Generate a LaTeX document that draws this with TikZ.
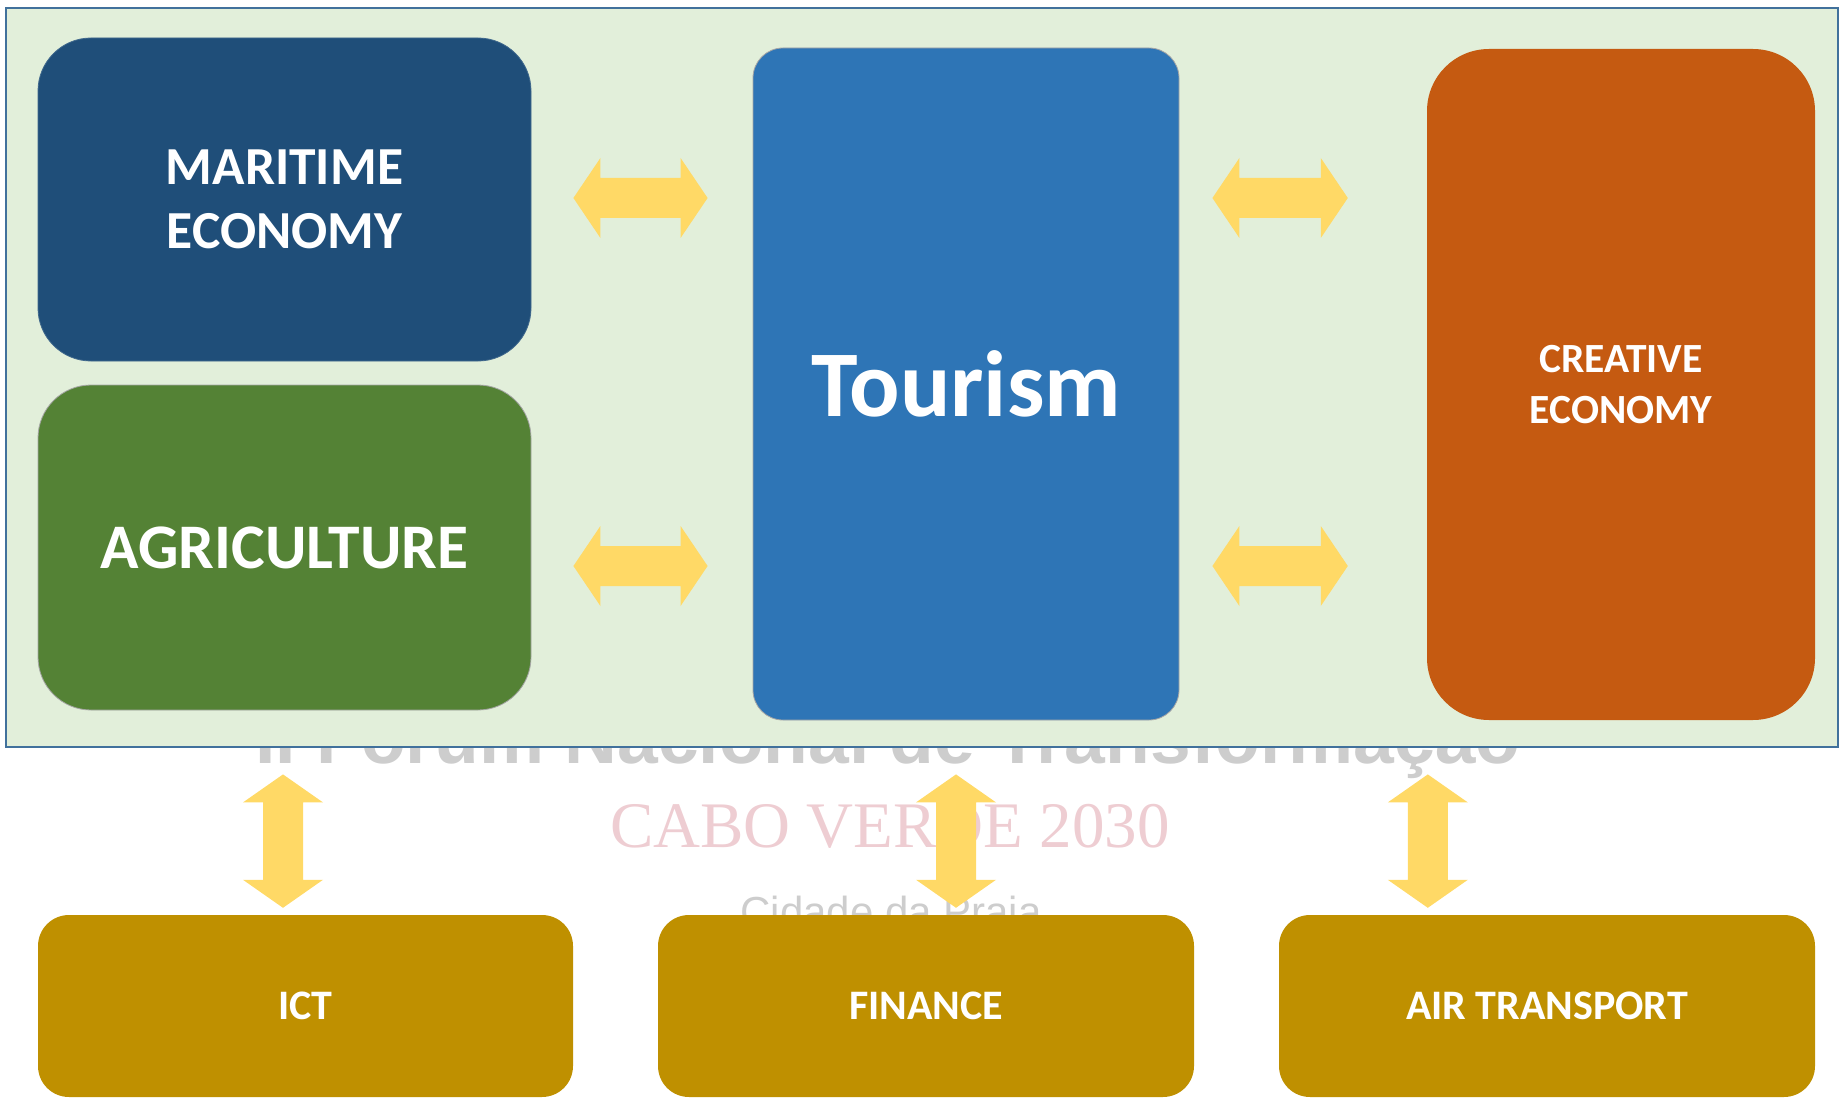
\documentclass[tikz,border=0pt]{standalone}
\usepackage{fontspec}
\setmainfont{Carlito}
\newfontfamily\wmsans{Liberation Sans}
\newfontfamily\wmserif{Liberation Serif}
\usetikzlibrary{calc}
\definecolor{bgc}{RGB}{226,239,218}
\definecolor{framec}{RGB}{65,113,156}
\definecolor{marc}{RGB}{31,78,121}
\definecolor{agrc}{RGB}{84,130,53}
\definecolor{tourc}{RGB}{46,117,182}
\definecolor{creac}{RGB}{197,90,17}
\definecolor{botc}{RGB}{191,144,0}
\definecolor{arrowc}{RGB}{255,217,102}
\definecolor{wmgrey}{RGB}{205,205,205}
\definecolor{wmpink}{RGB}{238,205,210}
\newcommand{\hbiarrow}[2]{%
  \fill[arrowc] (#1) -- ($(#1)+(27,-40)$) -- ($(#1)+(27,-20)$) -- ($(#2)+(-27,-20)$)
   -- ($(#2)+(-27,-40)$) -- (#2) -- ($(#2)+(-27,40)$) -- ($(#2)+(-27,20)$)
   -- ($(#1)+(27,20)$) -- ($(#1)+(27,40)$) -- cycle;}
\newcommand{\vbiarrow}[2]{%
  \fill[arrowc] (#1) -- ($(#1)+(-40,28)$) -- ($(#1)+(-20,28)$) -- ($(#2)+(-20,-28)$)
   -- ($(#2)+(-40,-28)$) -- (#2) -- ($(#2)+(40,-28)$) -- ($(#2)+(20,-28)$)
   -- ($(#1)+(20,28)$) -- ($(#1)+(40,28)$) -- cycle;}
\tikzset{
  box/.style={rectangle, inner sep=0pt, align=center, text=white, font=\bfseries},
}
\begin{document}
\begin{tikzpicture}[x=1pt,y=-1pt]
\useasboundingbox (0,0) rectangle (1845,1110);
% watermark
\node[anchor=base, text=wmgrey, font=\wmsans\bfseries\fontsize{78}{90}\selectfont, inner sep=0pt] (wm1) at (888,763) {\resizebox{1265pt}{!}{II Forum Nacional de Transformação}};
\node[anchor=base, text=wmpink, font=\wmserif\fontsize{65}{75}\selectfont, inner sep=0pt] (wm2) at (890,847) {CABO VERDE 2030};
\node[anchor=base, text=wmgrey, font=\wmsans\fontsize{42}{50}\selectfont, inner sep=0pt] (wm3) at (891,926) {Cidade da Praia};
% frame
\node[rectangle, fill=bgc, draw=framec, line width=2.8pt, minimum width=1832pt, minimum height=739pt, inner sep=0pt] (frame) at (922,377.5) {};
% top boxes
\node[box, fill=marc, draw=marc!85!white, line width=0.8pt, rounded corners=53pt, minimum width=493pt, minimum height=323pt, font=\bfseries\fontsize{53.5}{64}\selectfont] (mar) at (284.5,199.5) {MARITIME\\ECONOMY};
\node[box, fill=agrc, draw=gray!70, line width=0.8pt, rounded corners=53pt, minimum width=493pt, minimum height=325pt, font=\bfseries\fontsize{63.5}{76}\selectfont] (agr) at (284.5,547.5) {AGRICULTURE};
\node[box, fill=tourc, draw=gray!70, line width=0.8pt, rounded corners=30pt, minimum width=426pt, minimum height=672pt, font=\bfseries\fontsize{94}{112}\selectfont] (tour) at (966,384) {Tourism};
\node[box, fill=creac, rounded corners=62pt, minimum width=388pt, minimum height=671pt, font=\bfseries\fontsize{41.5}{51}\selectfont] (crea) at (1621,384.5) {CREATIVE\\ECONOMY};
% horizontal arrows
\coordinate (h1a) at ($(mar.east)+(42,-1.5)$);
\coordinate (h1b) at ($(tour.west |- h1a)+(-45,0)$);
\coordinate (h2a) at ($(agr.east)+(42,18.5)$);
\coordinate (h2b) at ($(tour.west |- h2a)+(-45,0)$);
\coordinate (h3a) at ($(tour.east |- h1a)+(33,0)$);
\coordinate (h3b) at ($(crea.west |- h1a)+(-79,0)$);
\coordinate (h4a) at ($(tour.east |- h2a)+(33,0)$);
\coordinate (h4b) at ($(crea.west |- h2a)+(-79,0)$);
\hbiarrow{h1a}{h1b}
\hbiarrow{h2a}{h2b}
\hbiarrow{h3a}{h3b}
\hbiarrow{h4a}{h4b}
% bottom boxes
\node[box, fill=botc, rounded corners=31pt, minimum width=535pt, minimum height=182pt, font=\bfseries\fontsize{42}{50}\selectfont] (ict) at (305.5,1006) {ICT};
\node[box, fill=botc, rounded corners=31pt, minimum width=536pt, minimum height=182pt, font=\bfseries\fontsize{42}{50}\selectfont] (fin) at (926,1006) {FINANCE};
\node[box, fill=botc, rounded corners=31pt, minimum width=536pt, minimum height=182pt, font=\bfseries\fontsize{42}{50}\selectfont] (air) at (1547,1006) {AIR TRANSPORT};
% vertical arrows
\coordinate (v1a) at ($(frame.south -| mar.south)+(-1.5,26)$);
\coordinate (v1b) at ($(ict.north -| v1a)+(0,-7)$);
\coordinate (v2a) at ($(frame.south -| tour.south)+(-10,26)$);
\coordinate (v2b) at ($(fin.north -| v2a)+(0,-7)$);
\coordinate (v3a) at ($(frame.south -| crea.west)+(1,26)$);
\coordinate (v3b) at ($(air.north -| v3a)+(0,-7)$);
\vbiarrow{v1a}{v1b}
\vbiarrow{v2a}{v2b}
\vbiarrow{v3a}{v3b}
\end{tikzpicture}
\end{document}
